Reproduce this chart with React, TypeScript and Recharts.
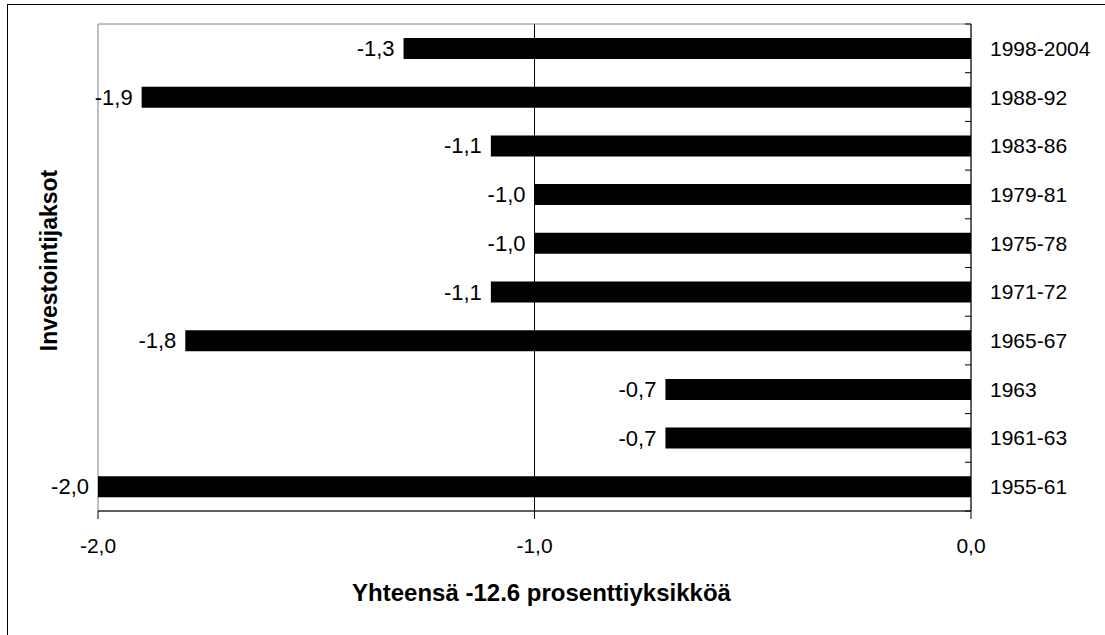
import { BarChart, Bar, XAxis, YAxis, ReferenceLine, ReferenceArea, LabelList, Label } from 'recharts';

// investment periods, top to bottom
const periods = ['1998-2004', '1988-92', '1983-86', '1979-81', '1975-78', '1971-72', '1965-67', '1963', '1961-63', '1955-61'];
// contribution, percentage points
const contributions = [-1.3, -1.9, -1.1, -1.0, -1.0, -1.1, -1.8, -0.7, -0.7, -2.0];
const xTicks = [-2, -1, 0];
const xTitle = 'Yhteensä -12.6 prosenttiyksikköä';
const yTitle = 'Investointijaksot';

const data = periods.map((period, i) => ({ period, value: contributions[i] }));

const FONT = '"Liberation Sans", Arial, sans-serif';
const fmt = (v: number) => Number(v).toFixed(1).replace('.', ',');

const ValueLabel = (props: any) => {
  const { x, y, width, height, value } = props;
  const left = Math.min(Number(x), Number(x) + Number(width));
  return (
    <text
      x={left - 9}
      y={Number(y) + Number(height) / 2}
      textAnchor="end"
      dominantBaseline="central"
      fontSize={22}
      fill="#000"
    >
      {fmt(value)}
    </text>
  );
};

// category label plus Excel-style tick marks on the band edges, pointing into the plot
const PeriodTick = (props: any) => {
  const { x, y, payload, index, visibleTicksCount } = props;
  const half = Number(payload?.offset ?? 0);
  const last = index === visibleTicksCount - 1;
  return (
    <g>
      <line x1={x - 6} x2={x} y1={y - half} y2={y - half} stroke="#000" />
      {last && <line x1={x - 6} x2={x} y1={y + half} y2={y + half} stroke="#000" />}
      <text x={x + 19} y={y} dominantBaseline="central" fontSize={21} fill="#000">
        {payload.value}
      </text>
    </g>
  );
};

export default function App() {
  return (
    <div style={{ position: 'absolute', left: 0, top: 0, width: 1105, height: 635, overflow: 'hidden', background: '#fff', fontFamily: FONT }}>
      <div style={{ position: 'absolute', left: 7, top: 4, width: 1120, height: 660, border: '1px solid #000' }} />
      <div style={{ position: 'absolute', left: 0, top: 0 }}>
        <BarChart
          width={1105}
          height={635}
          data={data}
          layout="vertical"
          margin={{ top: 24, right: 0, bottom: 0, left: 0 }}
          barCategoryGap={0}
        >
          <XAxis
            type="number"
            domain={[-2, 0]}
            ticks={xTicks}
            tickFormatter={fmt}
            height={124}
            axisLine={{ stroke: '#000' }}
            tickLine={{ stroke: '#000' }}
            tickSize={8}
            tickMargin={19}
            tick={{ fontSize: 21, fill: '#000' }}
          >
            <Label
              content={({ viewBox }: any) => (
                <text
                  x={viewBox.x + viewBox.width / 2 + 7}
                  y={viewBox.y + 90}
                  textAnchor="middle"
                  fontSize={24}
                  fontWeight="bold"
                  fill="#000"
                >
                  {xTitle}
                </text>
              )}
            />
          </XAxis>
          <YAxis
            yAxisId="title"
            type="category"
            dataKey="period"
            orientation="left"
            width={98}
            tick={false}
            axisLine={false}
            tickLine={false}
          >
            <Label
              content={({ viewBox }: any) => (
                <text
                  transform={`translate(${viewBox.x + viewBox.width / 2}, ${viewBox.y + viewBox.height / 2 - 7}) rotate(-90)`}
                  textAnchor="middle"
                  dominantBaseline="central"
                  fontSize={23}
                  fontWeight="bold"
                  fill="#000"
                >
                  {yTitle}
                </text>
              )}
            />
          </YAxis>
          <YAxis
            yAxisId="cat"
            type="category"
            dataKey="period"
            orientation="right"
            width={134}
            axisLine={{ stroke: '#000' }}
            tickLine={false}
            tickSize={0}
            tickMargin={0}
            interval={0}
            tick={<PeriodTick />}
          />
          <ReferenceArea yAxisId="cat" x1={-2} x2={0} fill="none" stroke="#808080" strokeWidth={1} />
          <ReferenceLine yAxisId="cat" x={-1} stroke="#000" strokeWidth={1} />
          <Bar yAxisId="cat" dataKey="value" fill="#000" barSize={21} isAnimationActive={false}>
            <LabelList dataKey="value" content={ValueLabel} />
          </Bar>
        </BarChart>
      </div>
    </div>
  );
}
